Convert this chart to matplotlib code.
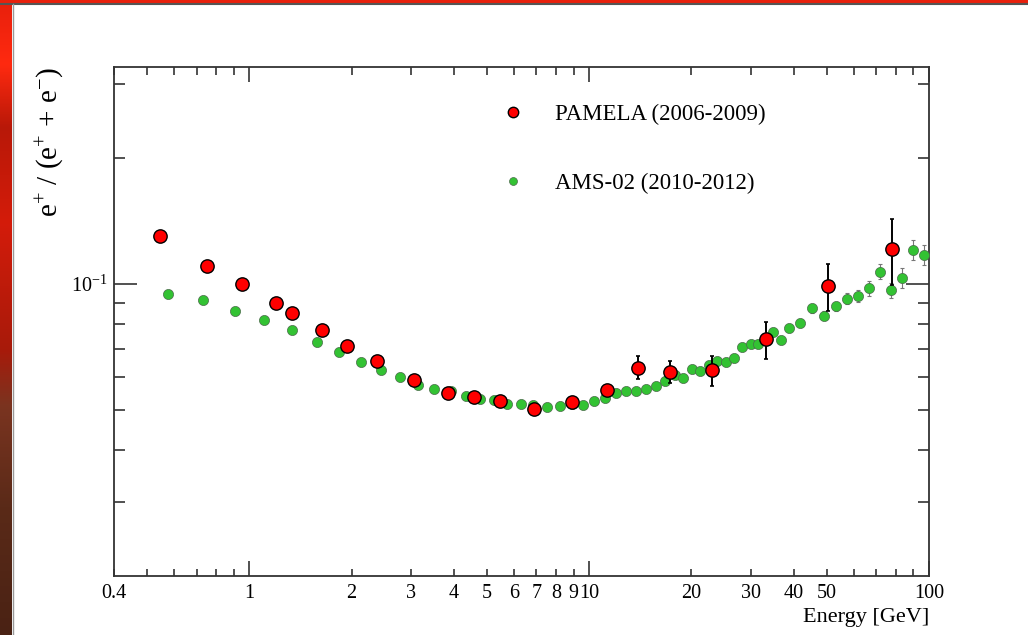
import numpy as np
import matplotlib
matplotlib.use("Agg")
import matplotlib.pyplot as plt
from matplotlib.ticker import FixedLocator, FixedFormatter
from matplotlib.lines import Line2D
from matplotlib.colors import LinearSegmentedColormap

plt.rcParams['font.family'] = ['Liberation Serif', 'DejaVu Serif']
plt.rcParams['mathtext.fontset'] = 'custom'
plt.rcParams['mathtext.rm'] = 'Liberation Serif'
plt.rcParams['mathtext.it'] = 'Liberation Serif:italic'

# PAMELA positron fraction (energy in GeV)
pamela_e = [0.546, 0.750, 0.950, 1.20, 1.34, 1.64, 1.94, 2.38, 3.06, 3.85, 4.58,
            5.46, 6.90, 8.92, 11.3, 13.9, 17.3, 23.0, 33.1, 50.4, 77.8]
pamela_r = [0.130, 0.110, 0.100, 0.0902, 0.0850, 0.0777, 0.0710, 0.0655, 0.0588,
            0.0547, 0.0535, 0.0524, 0.0503, 0.0521, 0.0557, 0.0629, 0.0615,
            0.0621, 0.0736, 0.0990, 0.1209]
pamela_lo = [0.001, 0.001, 0.001, 0.001, 0.001, 0.001, 0.001, 0.001, 0.001,
             0.001, 0.001, 0.001, 0.001, 0.0015, 0.0015, 0.0037, 0.0037,
             0.0051, 0.0076, 0.0130, 0.0217]
pamela_hi = [0.001, 0.001, 0.001, 0.001, 0.001, 0.001, 0.001, 0.001, 0.001,
             0.001, 0.001, 0.001, 0.001, 0.0015, 0.0015, 0.0041, 0.0037,
             0.0051, 0.0072, 0.0127, 0.0217]

# AMS-02 positron fraction
ams_e = [0.576, 0.731, 0.906, 1.105, 1.333, 1.579, 1.836, 2.127, 2.446, 2.78,
         3.13, 3.50, 3.92, 4.33, 4.78, 5.25, 5.74, 6.29, 6.85, 7.50, 8.19, 8.90,
         9.59, 10.36, 11.13, 12.0, 12.86, 13.76, 14.73, 15.73, 16.75, 17.9, 18.9,
         20.1, 21.2, 22.5, 23.8, 25.2, 26.7, 28.2, 29.9, 31.5, 34.8, 36.6, 38.8,
         41.8, 45.3, 49.1, 53.1, 57.4, 61.9, 66.7, 71.9, 77.5, 83.4, 89.7, 96.8]
ams_r = [0.0944, 0.0917, 0.0863, 0.0821, 0.0776, 0.0724, 0.0686, 0.0650, 0.0622,
         0.0597, 0.0573, 0.0559, 0.0555, 0.0540, 0.0529, 0.0526, 0.0516, 0.0516,
         0.0512, 0.0507, 0.0510, 0.0515, 0.0513, 0.0523, 0.0532, 0.0547, 0.0553,
         0.0553, 0.0559, 0.0570, 0.0584, 0.0604, 0.0596, 0.0626, 0.0617, 0.0640,
         0.0654, 0.0650, 0.0663, 0.0705, 0.0718, 0.0717, 0.0767, 0.0733, 0.0782,
         0.0806, 0.0873, 0.0839, 0.0885, 0.0922, 0.0934, 0.0975, 0.1069, 0.0965,
         0.1035, 0.1207, 0.1172]
ams_err = [0.0008] * 42 + [0.0015, 0.0015, 0.0016, 0.0018, 0.0020, 0.0020, 0.0022,
                           0.0026, 0.0031, 0.0038, 0.0044, 0.0040, 0.0058,
                           0.0068, 0.0066]

x_major = [1, 10, 100]
x_minor = [0.4, 0.5, 0.6, 0.7, 0.8, 0.9, 2, 3, 4, 5, 6, 7, 8, 9,
           20, 30, 40, 50, 60, 70, 80, 90]
x_minor_labels = ['0.4', '', '', '', '', '', '2', '3', '4', '5', '6', '7', '8', '9',
                  '20', '30', '40', '50', '', '', '', '']
y_minor = [0.03, 0.04, 0.05, 0.06, 0.07, 0.08, 0.09, 0.2, 0.3]

fig = plt.figure(figsize=(10.28, 6.35), dpi=100)
fig.patch.set_facecolor('white')

# slide frame: red strip on the left and along the top
strip = LinearSegmentedColormap.from_list(
    'strip', [(0.0, '#e8200c'), (0.1, '#ff2a10'), (0.2, '#b81808'),
              (0.35, '#d41c0a'), (0.55, '#a81a0a'), (0.64, '#7a3420'),
              (0.8, '#5a2a18'), (1.0, '#4a2214')])
sax = fig.add_axes([0, 0, 12 / 1028, 1])
sax.imshow(np.linspace(0, 1, 256).reshape(-1, 1), cmap=strip, aspect='auto')
sax.axis('off')
tax = fig.add_axes([0, 1 - 3 / 635, 1, 3 / 635])
tax.set_facecolor('#e8200c')
tax.set_xticks([])
tax.set_yticks([])
for s in tax.spines.values():
    s.set_visible(False)
fig.add_artist(Line2D([0, 1], [1 - 4 / 635] * 2, color='#555555', lw=1.5))
fig.add_artist(Line2D([12.5 / 1028] * 2, [0, 1 - 4 / 635], color='#999999', lw=1.0))

ax = fig.add_axes([114 / 1028, 1 - 576 / 635, 815 / 1028, 509 / 635])
ax.set_xscale('log')
ax.set_yscale('log')

ax.errorbar(ams_e, ams_r, yerr=ams_err, fmt='none', ecolor='#777777',
            elinewidth=0.8, capsize=1.5, capthick=0.8, zorder=2)
ax.plot(ams_e, ams_r, 'o', ms=7.3, mfc='#33c233', mec='#4a6a4a', mew=0.5,
        ls='none', zorder=3)
ax.errorbar(pamela_e, pamela_r, yerr=[pamela_lo, pamela_hi], fmt='none',
            ecolor='black', elinewidth=1.4, capsize=1.5, capthick=1.2, zorder=4)
ax.plot(pamela_e, pamela_r, 'o', ms=9.6, mfc='#ff0000', mec='black', mew=1.0,
        ls='none', zorder=5)

ax.set_xlim(0.4, 100)
ax.set_ylim(0.02, 0.33)

ax.xaxis.set_major_locator(FixedLocator(x_major))
ax.xaxis.set_major_formatter(FixedFormatter(['1', '10', '100']))
ax.xaxis.set_minor_locator(FixedLocator(x_minor))
ax.xaxis.set_minor_formatter(FixedFormatter(x_minor_labels))
ax.yaxis.set_major_locator(FixedLocator([0.1]))
ax.yaxis.set_major_formatter(FixedFormatter([r'10$^{\mathrm{-1}}$']))
ax.yaxis.set_minor_locator(FixedLocator(y_minor))
ax.yaxis.set_minor_formatter(FixedFormatter([''] * len(y_minor)))

for s in ax.spines.values():
    s.set_color('#333333')
    s.set_linewidth(1.3)
ax.tick_params(which='both', direction='in', top=True, right=True,
               color='#333333', labelsize=14.5, width=1.2)
ax.tick_params(axis='x', which='major', length=10.5, pad=5.5)
ax.tick_params(axis='x', which='minor', length=5.4, pad=5.5)
ax.tick_params(axis='y', which='major', length=16.5, pad=5)
ax.tick_params(axis='y', which='minor', length=8)

fig.text(929 / 1028, 1 - 622 / 635, 'Energy [GeV]', ha='right', va='baseline',
         fontsize=16)
fig.text(50 / 1028, 1 - 67 / 635, r'e$^{+}$ / (e$^{+}$ + e$^{\mathrm{-}}$)',
         rotation=90, ha='center', va='top', fontsize=21)

handles = [
    Line2D([], [], marker='o', ls='none', ms=9.6, mfc='#ff0000', mec='black', mew=1.0),
    Line2D([], [], marker='o', ls='none', ms=7.3, mfc='#33c233', mec='#4a6a4a', mew=0.5),
]
ax.legend(handles, ['PAMELA (2006-2009)', 'AMS-02 (2010-2012)'], loc='upper left',
          bbox_to_anchor=(0.476, 0.928), frameon=False, fontsize=16.5,
          markerscale=0.78, handlelength=1.0, handletextpad=1.3,
          labelspacing=2.09, borderpad=0, borderaxespad=0)

fig.savefig('out.png', dpi=100)
